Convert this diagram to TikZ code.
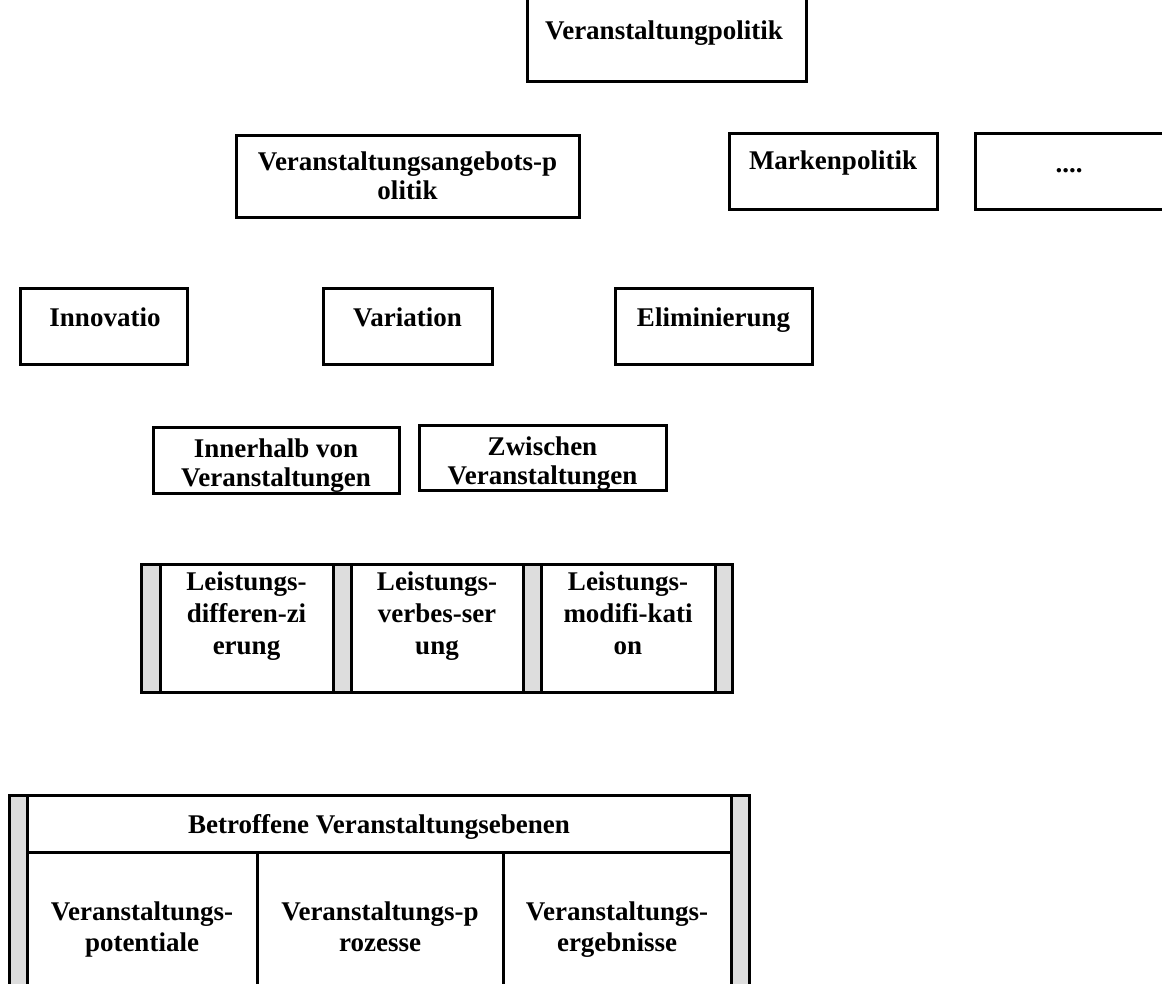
\documentclass[tikz,border=0pt]{standalone}
\usepackage{fontspec}
\setmainfont{Liberation Serif}
\definecolor{barg}{HTML}{DDDDDD}
\tikzset{
  bx/.style={draw=black, line width=3pt, fill=white, inner sep=0pt},
  txt/.style={font=\fontsize{27}{29}\selectfont\bfseries, align=center, inner sep=0pt, anchor=north},
  txtb/.style={txt, font=\fontsize{27}{32}\selectfont\bfseries},
  txtc/.style={txt, font=\fontsize{27}{31}\selectfont\bfseries},
  graybar/.style={fill=barg, draw=none},
  rule/.style={draw=black, line width=3pt}
}
\begin{document}
\begin{tikzpicture}[x=1pt, y=-1pt]
\useasboundingbox (0,0) rectangle (1162,983);
\clip (0,0) rectangle (1162,983);

% top level
\node[bx, minimum width=279pt, minimum height=101pt] (top) at (666.5,30.5) {};
\node[txt] (toptxt) at (664,21) {Veranstaltungpolitik};

% second level
\node[bx, minimum width=343pt, minimum height=82pt] (angebot) at (407.5,176) {};
\node[txt] (angebottxt) at (407.5,152) {Veranstaltungsangebots-p\\olitik};
\node[bx, minimum width=208pt, minimum height=76pt] (marken) at (833,171) {};
\node[txt] (markentxt) at (833,151) {Markenpolitik};
\node[bx, minimum width=200pt, minimum height=76pt] (dots) at (1075,171) {};
\node[txt, anchor=base] (dotstxt) at (1069,172) {....};

% third level
\node[bx, minimum width=167pt, minimum height=76pt] (innov) at (103.5,326) {};
\node[txt] (innovtxt) at (105,308) {Innovatio};
\node[bx, minimum width=169pt, minimum height=76pt] (var) at (407.5,326) {};
\node[txt] (vartxt) at (407.5,308) {Variation};
\node[bx, minimum width=197pt, minimum height=76pt] (elim) at (713.5,326) {};
\node[txt] (elimtxt) at (713.5,308) {Eliminierung};

% fourth level
\node[bx, minimum width=246pt, minimum height=66pt] (inner) at (276,460) {};
\node[txt] (innertxt) at (276,439) {Innerhalb von\\Veranstaltungen};
\node[bx, minimum width=247pt, minimum height=65pt] (zw) at (542.5,457.5) {};
\node[txt] (zwtxt) at (542.5,437) {Zwischen\\Veranstaltungen};

% Leistungs table
\fill[graybar] (141,564) rectangle (160,692);
\fill[graybar] (333,564) rectangle (351,692);
\fill[graybar] (523,564) rectangle (541,692);
\fill[graybar] (715,564) rectangle (732,692);
\node[bx, minimum width=173pt, minimum height=128pt] (ldiff) at (246.5,628) {};
\node[bx, minimum width=172pt, minimum height=128pt] (lverb) at (437,628) {};
\node[bx, minimum width=174pt, minimum height=128pt] (lmod) at (628,628) {};
\draw[rule] (141,564) rectangle (732,692);
\node[txtb] (ldifftxt) at (246.5,572) {Leistungs-\\differen-zi\\erung};
\node[txtb] (lverbtxt) at (437,572) {Leistungs-\\verbes-ser\\ung};
\node[txtb] (lmodtxt) at (628,572) {Leistungs-\\modifi-kati\\on};

% bottom table
\fill[graybar] (9,795) rectangle (27,1000);
\fill[graybar] (731,795) rectangle (749,1000);
\draw[rule] (9,1000) -- (9,795) -- (749,795) -- (749,1000);
\draw[rule] (27,795) -- (27,1000);
\draw[rule] (731,795) -- (731,1000);
\draw[rule] (27,852) -- (731,852);
\draw[rule] (257,852) -- (257,1000);
\draw[rule] (503,852) -- (503,1000);
\node[txt] (ebenen) at (379,814) {Betroffene Veranstaltungsebenen};
\node[txtc] (pot) at (142,902) {Veranstaltungs-\\potentiale};
\node[txtc] (proz) at (380,902) {Veranstaltungs-p\\rozesse};
\node[txtc] (erg) at (617,902) {Veranstaltungs-\\ergebnisse};
\end{tikzpicture}
\end{document}
